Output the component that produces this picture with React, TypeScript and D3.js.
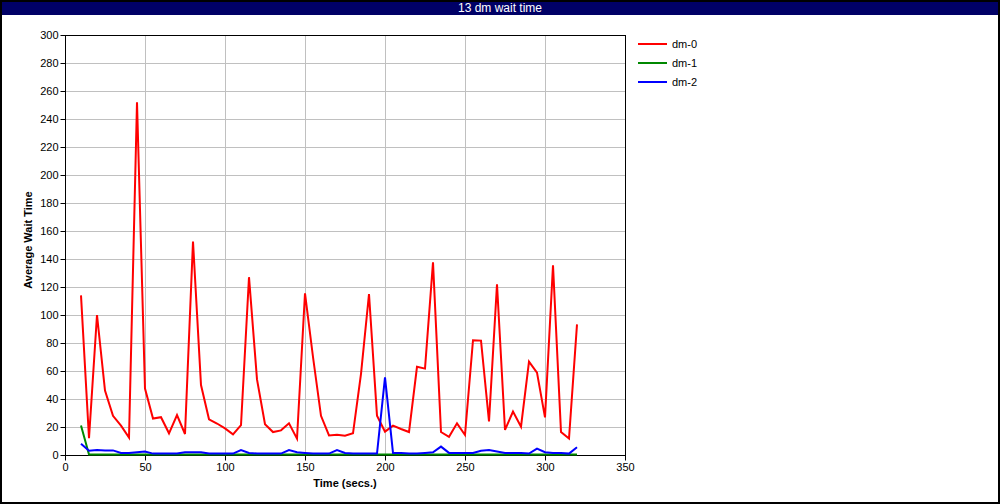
import { useEffect, useRef } from "react";
import * as d3 from "d3";

const times = d3.range(10, 321, 5);

const dm0 = [
  114, 12, 100, 46, 28, 21, 12.5, 252, 47.5, 26, 27, 15.5, 28.5, 15, 152.5, 50,
  25.5, 22.5, 19, 14.8, 21.4, 127, 54, 22, 16.4, 17.6, 22.6, 11.7, 115.5, 70,
  28, 14, 14.5, 13.8, 15.5, 58, 115, 28, 16.7, 21, 18.6, 16.4, 63, 61.7, 137.6,
  16.4, 13, 22.6, 14.3, 82, 81.7, 24, 122, 17.9, 31, 20.2, 66.7, 58.8, 26.9,
  135.5, 16.4, 11.7, 93.3,
];

const dm1 = [
  21, 0.4, 0.4, 0.4, 0.4, 0.4, 0.4, 0.4, 0.4, 0.4, 0.4, 0.4, 0.4, 0.4, 0.4, 0.4,
  0.4, 0.4, 0.4, 0.4, 0.4, 0.4, 0.4, 0.4, 0.4, 0.4, 0.4, 0.4, 0.4, 0.4, 0.4, 0.4,
  0.4, 0.4, 0.4, 0.4, 0.4, 0.4, 0.4, 0.4, 0.4, 0.4, 0.4, 0.4, 0.4, 0.4, 0.4, 0.4,
  0.4, 0.4, 0.4, 0.4, 0.4, 0.4, 0.4, 0.4, 0.4, 0.4, 0.4, 0.4, 0.4, 0.4, 0.4,
];

const dm2 = [
  8, 3, 3.5, 3.3, 3.3, 1.5, 1.5, 2, 2.5, 1, 1, 1, 1, 2, 2, 2, 1, 1, 1, 1, 3.5,
  1.5, 1, 1, 1, 1, 3.5, 2, 1.5, 1, 1, 1, 3.5, 1.5, 1, 1, 1, 1, 55.5, 1.5, 1.5, 1,
  1, 1.5, 2, 6, 1.5, 1.5, 1.5, 1.5, 3, 3.5, 2.5, 1.5, 1.5, 1.5, 1, 4.5, 2, 1.5,
  1.5, 1, 5.5,
];

const seriesNames = ["dm-0", "dm-1", "dm-2"];
const seriesColors = ["#ff0000", "#008800", "#0000ff"];
const xTicks = d3.range(0, 351, 50);
const yTicks = d3.range(0, 301, 20);

export default function App() {
  const svgRef = useRef<SVGSVGElement | null>(null);

  useEffect(() => {
    const svg = d3.select(svgRef.current);
    svg.selectAll("*").remove();
    const width = 1000;
    const height = 504;
    const font = "'Liberation Sans', Arial, Helvetica, sans-serif";

    svg.append("rect").attr("width", width).attr("height", height).attr("fill", "#fff");

    // title bar
    svg.append("rect").attr("x", 0).attr("y", 0).attr("width", width).attr("height", 15).attr("fill", "#000066");
    svg.append("text")
      .attr("x", 500).attr("y", 12)
      .attr("text-anchor", "middle")
      .attr("fill", "#fff")
      .style("font", `12px ${font}`)
      .text("13 dm wait time");

    const x = d3.scaleLinear().domain([0, 350]).range([65, 625]);
    const y = d3.scaleLinear().domain([0, 300]).range([455, 35]);

    // grid
    svg.append("g")
      .selectAll("line")
      .data(xTicks.slice(1, -1))
      .join("line")
      .attr("x1", (d) => x(d) + 0.5).attr("x2", (d) => x(d) + 0.5)
      .attr("y1", y(300)).attr("y2", y(0))
      .attr("stroke", "#c0c0c0");
    svg.append("g")
      .selectAll("line")
      .data(yTicks.slice(1, -1))
      .join("line")
      .attr("x1", x(0)).attr("x2", x(350))
      .attr("y1", (d) => y(d) + 0.5).attr("y2", (d) => y(d) + 0.5)
      .attr("stroke", "#c0c0c0");

    // axes
    const xAxis = svg.append("g")
      .attr("transform", `translate(0,${y(0) + 0.5})`)
      .call(d3.axisBottom(x).tickValues(xTicks).tickSize(5).tickPadding(3));
    const yAxis = svg.append("g")
      .attr("transform", `translate(${x(0) + 0.5},0)`)
      .call(d3.axisLeft(y).tickValues(yTicks).tickSize(5).tickPadding(2));
    [xAxis, yAxis].forEach((g) => {
      g.select(".domain").remove();
      g.selectAll("line").attr("stroke", "#000");
      g.selectAll("text").attr("fill", "#000").style("font", `11px ${font}`);
    });

    // plot frame
    svg.append("rect")
      .attr("x", x(0) + 0.5).attr("y", y(300) + 0.5)
      .attr("width", x(350) - x(0)).attr("height", y(0) - y(300))
      .attr("fill", "none").attr("stroke", "#000");

    // lines
    const allSeries = [dm0, dm1, dm2];
    const line = d3.line<number>()
      .x((_, i) => x(times[i]))
      .y((d) => y(d));
    allSeries.forEach((vals, i) => {
      svg.append("path")
        .datum(vals)
        .attr("d", line)
        .attr("fill", "none")
        .attr("stroke", seriesColors[i])
        .attr("stroke-width", 2)
        .attr("stroke-linejoin", "miter");
    });

    // axis titles
    svg.append("text")
      .attr("x", 345).attr("y", 487)
      .attr("text-anchor", "middle")
      .style("font", `bold 11px ${font}`)
      .text("Time (secs.)");
    svg.append("text")
      .attr("transform", "translate(32,240) rotate(-90)")
      .attr("text-anchor", "middle")
      .style("font", `bold 11px ${font}`)
      .text("Average Wait Time");

    // legend
    const legend = svg.append("g");
    seriesNames.forEach((name, i) => {
      const ly = 44 + i * 19;
      legend.append("line")
        .attr("x1", 638).attr("x2", 667)
        .attr("y1", ly).attr("y2", ly)
        .attr("stroke", seriesColors[i]).attr("stroke-width", 2);
      legend.append("text")
        .attr("x", 672).attr("y", ly + 4)
        .style("font", `11px ${font}`)
        .text(name);
    });

    // outer border
    svg.append("rect")
      .attr("x", 1).attr("y", 1).attr("width", width - 2).attr("height", height - 2)
      .attr("fill", "none").attr("stroke", "#000").attr("stroke-width", 2);
  }, []);

  return (
    <div style={{ position: "absolute", left: 0, top: 0 }}>
      <svg ref={svgRef} width={1000} height={504} style={{ display: "block" }} />
    </div>
  );
}
